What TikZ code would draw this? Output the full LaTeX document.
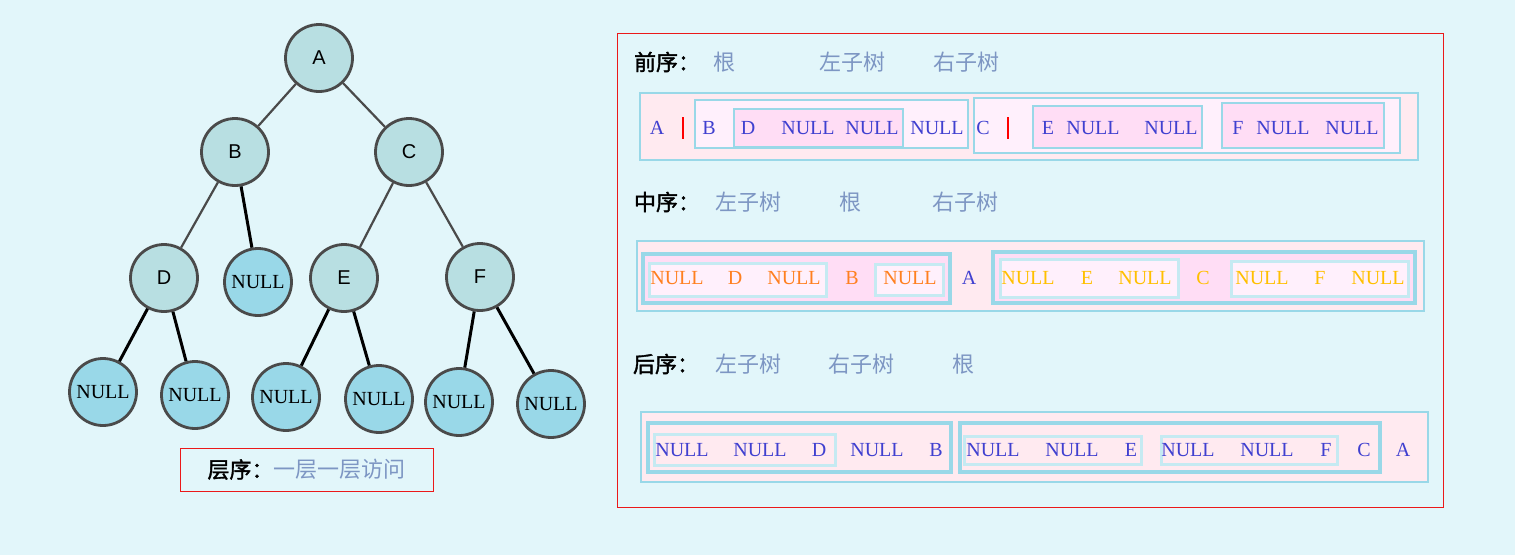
\documentclass[tikz,border=0pt]{standalone}
\usepackage{fontspec}
\setmainfont{Liberation Serif}
\newfontfamily\cjkfont{Noto Sans CJK SC}
\newfontfamily\cjkboldfont[FakeBold=1.5]{Noto Sans CJK SC}
\newfontfamily\letterfont{Liberation Sans}
\definecolor{bgcyan}{RGB}{226,246,250}
\definecolor{innerfill}{RGB}{184,223,226}
\definecolor{leaffill}{RGB}{153,216,232}
\definecolor{nodeline}{RGB}{74,74,74}
\definecolor{pinkA}{RGB}{255,234,240}
\definecolor{pinkB}{RGB}{255,240,252}
\definecolor{pinkC}{RGB}{255,221,245}
\definecolor{skyline}{RGB}{153,216,232}
\definecolor{paleline}{RGB}{197,234,242}
\definecolor{txtblue}{RGB}{64,64,208}
\definecolor{hdrgray}{RGB}{125,150,195}
\definecolor{orangeT}{RGB}{255,128,32}
\definecolor{yellowT}{RGB}{255,192,0}
\definecolor{redline}{RGB}{235,25,25}
\tikzset{
  inner/.style={circle, draw=nodeline, line width=2.8pt, fill=innerfill, minimum size=67pt, inner sep=0pt, font=\letterfont\fontsize{20}{20}\selectfont},
  leaf/.style={inner, fill=leaffill, font=\fontsize{20}{20}\selectfont},
  upedge/.style={draw=nodeline, line width=2.2pt},
  lowedge/.style={draw=black, line width=3pt},
  key/.style={inner sep=0pt, font=\fontsize{20}{20}\selectfont, text=txtblue},
  title/.style={inner sep=0pt, font=\cjkfont\fontsize{22}{22}\selectfont, text=hdrgray},
  head/.style={inner sep=0pt, font=\cjkboldfont\fontsize{22}{22}\selectfont, text=black},
  rowbox/.style={draw=skyline, line width=1.2pt, fill=pinkA},
  groupbox/.style={draw=skyline, line width=3.5pt},
  subbox/.style={draw=paleline, line width=3pt, fill=pinkB},
  thinbox/.style={draw=skyline, line width=1.2pt},
  redbar/.style={draw=red, line width=1.5pt},
}
\begin{document}
\begin{tikzpicture}[x=1pt, y=-1pt]
\useasboundingbox (0,0) rectangle (1515,555);
\fill[bgcyan] (0,0) rectangle (1515,555);
% tree
\node[inner] (A) at (319,58) {A};
\node[inner] (B) at (235,152) {B};
\node[inner] (C) at (409,152) {C};
\node[inner] (D) at (164,278) {D};
\node[leaf] (Bnull) at (258,282) {NULL};
\node[inner] (E) at (344,278) {E};
\node[inner] (F) at (480,277) {F};
\node[leaf] (Dl) at (103,392) {NULL};
\node[leaf] (Dr) at (195,395) {NULL};
\node[leaf] (El) at (286,397) {NULL};
\node[leaf] (Er) at (379,399) {NULL};
\node[leaf] (Fl) at (459,402) {NULL};
\node[leaf] (Fr) at (551,404) {NULL};
\draw[upedge] (A) -- (B);
\draw[upedge] (A) -- (C);
\draw[upedge] (B) -- (D);
\draw[upedge] (C) -- (E);
\draw[upedge] (C) -- (F);
\draw[lowedge] (B) -- (Bnull);
\draw[lowedge] (D) -- (Dl);
\draw[lowedge] (D) -- (Dr);
\draw[lowedge] (E) -- (El);
\draw[lowedge] (E) -- (Er);
\draw[lowedge] (F) -- (Fl);
\draw[lowedge] (F) -- (Fr);
% level order
\node[draw=redline, line width=1pt, minimum width=253pt, minimum height=43pt, inner sep=0pt, font=\cjkfont\fontsize{22}{22}\selectfont] (level) at (306.5,469.5)
  {\raisebox{2pt}{{\cjkboldfont\textcolor{black}{层序：}}\textcolor{hdrgray}{一层一层访问}}};
% panel
\draw[redline, line width=1pt, fill=bgcyan] (617,33) rectangle (1443,507);
% pre order
\node[head] (preT) at (667,62) {前序：};
\node[title] (preRoot) at (724,62) {根};
\node[title] (preLeft) at (852,62) {左子树};
\node[title] (preRight) at (966,62) {右子树};
\draw[rowbox] (640,93) rectangle (1418,160);
\draw[thinbox, fill=pinkB] (695,100) rectangle (968,148);
\draw[thinbox, fill=pinkC] (734,109) rectangle (903,147);
\draw[thinbox, fill=pinkB] (974,98) rectangle (1400,153);
\draw[thinbox, fill=pinkC] (1033,106) rectangle (1202,148);
\draw[thinbox, fill=pinkC] (1222,103) rectangle (1384,148);
\draw[redbar] (683,117) -- (683,139);
\draw[redbar] (1008,117) -- (1008,139);
\node[key] (preA) at (657,128) {A};
\node[key] (preB) at (709,128) {B};
\node[key] (preD) at (748,128) {D};
\node[key] (preDl) at (808,128) {NULL};
\node[key] (preDr) at (872,128) {NULL};
\node[key] (preBr) at (937,128) {NULL};
\node[key] (preC) at (983,128) {C};
\node[key] (preE) at (1048,128) {E};
\node[key] (preEl) at (1093,128) {NULL};
\node[key] (preEr) at (1171,128) {NULL};
\node[key] (preF) at (1238,128) {F};
\node[key] (preFl) at (1283,128) {NULL};
\node[key] (preFr) at (1352,128) {NULL};
% in order
\node[head] (inT) at (667,202) {中序：};
\node[title] (inLeft) at (748,202) {左子树};
\node[title] (inRoot) at (850,202) {根};
\node[title] (inRight) at (965,202) {右子树};
\draw[rowbox] (637,241) rectangle (1424,311);
\draw[groupbox, fill=pinkC] (643,254) rectangle (950,303);
\draw[subbox] (649,263) rectangle (826,296);
\draw[subbox] (875,264) rectangle (943,295);
\draw[groupbox, fill=pinkC] (993,252) rectangle (1415,303);
\draw[subbox] (1000,259) rectangle (1178,297);
\draw[subbox] (1231,261) rectangle (1408,296);
\node[key, text=orangeT] (inDl) at (677,278) {NULL};
\node[key, text=orangeT] (inD) at (735,278) {D};
\node[key, text=orangeT] (inDr) at (794,278) {NULL};
\node[key, text=orangeT] (inB) at (852,278) {B};
\node[key, text=orangeT] (inBr) at (910,278) {NULL};
\node[key] (inA) at (969,278) {A};
\node[key, text=yellowT] (inEl) at (1028,278) {NULL};
\node[key, text=yellowT] (inE) at (1087,278) {E};
\node[key, text=yellowT] (inEr) at (1145,278) {NULL};
\node[key, text=yellowT] (inC) at (1203,278) {C};
\node[key, text=yellowT] (inFl) at (1262,278) {NULL};
\node[key, text=yellowT] (inF) at (1320,278) {F};
\node[key, text=yellowT] (inFr) at (1378,278) {NULL};
% post order
\node[head] (postT) at (666,364) {后序：};
\node[title] (postLeft) at (748,364) {左子树};
\node[title] (postRight) at (861,364) {右子树};
\node[title] (postRoot) at (963,364) {根};
\draw[rowbox] (641,412) rectangle (1428,482);
\draw[groupbox] (648,423) rectangle (951,472);
\draw[subbox, fill=pinkA] (654,434) rectangle (835,465);
\draw[groupbox] (960,423) rectangle (1380,472);
\draw[subbox, fill=pinkA] (964,436) rectangle (1141,464);
\draw[subbox, fill=pinkA] (1161,436) rectangle (1337,464);
\node[key] (postDl) at (682,450) {NULL};
\node[key] (postDr) at (760,450) {NULL};
\node[key] (postD) at (819,450) {D};
\node[key] (postBr) at (877,450) {NULL};
\node[key] (postB) at (936,450) {B};
\node[key] (postEl) at (993,450) {NULL};
\node[key] (postEr) at (1072,450) {NULL};
\node[key] (postE) at (1131,450) {E};
\node[key] (postFl) at (1188,450) {NULL};
\node[key] (postFr) at (1267,450) {NULL};
\node[key] (postF) at (1326,450) {F};
\node[key] (postC) at (1364,450) {C};
\node[key] (postA) at (1403,450) {A};
\end{tikzpicture}
\end{document}
